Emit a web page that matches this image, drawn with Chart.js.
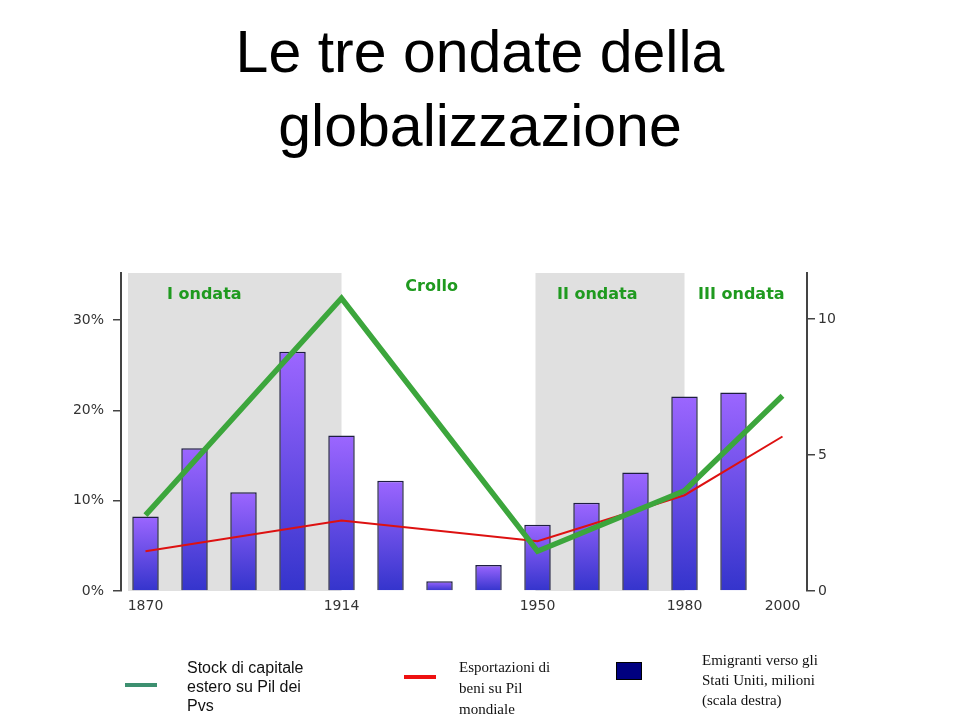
<!DOCTYPE html>
<html lang="it">
<head>
<meta charset="utf-8">
<title>Le tre ondate della globalizzazione</title>
<script src="https://cdn.jsdelivr.net/npm/chart.js@4.4.1/dist/chart.umd.min.js"></script>
<style>
  html, body { margin: 0; padding: 0; background: #fff; }
  #wrap { position: relative; width: 960px; height: 720px; overflow: hidden; }
  #chart { position: absolute; left: 0; top: 0; }
  .swatch { position: absolute; }
  .legend-text { position: absolute; color: #111; }
</style>
</head>
<body>
<div id="wrap">
  <canvas id="chart" width="960" height="720"></canvas>
  <div id="legend"></div>
</div>
<script>
// Values
const tickLabels = ['1870', '', '', '', '1914', '', '', '', '1950', '', '', '1980', '', '2000'];
const emigrants = [2.74, 5.25, 3.63, 8.8, 5.72, 4.06, 0.36, 0.96, 2.44, 3.25, 4.36, 7.16, 7.3]; // milioni, scala destra
const capitalStock = [8.4, null, null, null, 32.4, null, null, null, 4.4, null, null, 11.1, null, 21.6]; // % Pil Pvs
const exportsShare = [4.4, null, null, null, 7.8, null, null, null, 5.5, null, null, 10.6, null, 17.1]; // % Pil mondiale
const phaseNames = ['I ondata', 'Crollo', 'II ondata', 'III ondata'];
const shadedPeriods = [['1870', '1914'], ['1950', '1980']];

// Gradient fill for the emigrant bars (light purple on top, blue at the base)
function barFill(context) {
    const chart = context.chart;
    const area = chart.chartArea;
    if (!area || context.type !== 'data') return '#7a55ee';
    const top = chart.scales.y1.getPixelForValue(context.raw);
    const g = chart.ctx.createLinearGradient(0, top, 0, area.bottom);
    g.addColorStop(0, '#9c66ff');
    g.addColorStop(1, '#3434cc');
    return g;
}

// Grey background bands for the two globalisation waves
const bandsPlugin = {
    id: 'bands',
    beforeDraw(chart) {
        const { ctx, chartArea, scales: { x } } = chart;
        ctx.save();
        ctx.fillStyle = '#e0e0e0';
        shadedPeriods.forEach(([from, to]) => {
            const i0 = tickLabels.indexOf(from);
            const i1 = tickLabels.indexOf(to);
            const x0 = i0 === 0 ? chartArea.left + 7 : x.getPixelForValue(i0) - 2;
            const x1 = x.getPixelForValue(i1);
            ctx.fillRect(x0, chartArea.top, x1 - x0, chartArea.bottom - chartArea.top);
        });
        ctx.restore();
    }
};

// Phase names written over the plot
const phasePlugin = {
    id: 'phases',
    afterDraw(chart, args, opts) {
        const { ctx, scales: { x, y } } = chart;
        ctx.save();
        ctx.font = 'bold 16px "DejaVu Sans", Verdana, sans-serif';
        ctx.fillStyle = '#1f9a1f';
        ctx.textAlign = 'center';
        ctx.textBaseline = 'middle';
        opts.spots.forEach((s, i) => {
            ctx.fillText(phaseNames[i], x.getPixelForValue(s.at), y.getPixelForValue(s.level));
        });
        ctx.restore();
    }
};

const tickFont = { family: '"DejaVu Sans", sans-serif', size: 14 };

const chart = new Chart(document.getElementById('chart'), {
    type: 'bar',
    data: {
        labels: tickLabels,
        datasets: [{
            type: 'line',
            label: 'Stock di capitale estero su Pil dei Pvs',
            data: capitalStock,
            yAxisID: 'y',
            borderColor: '#3ca63c',
            borderWidth: 5.5,
            pointRadius: 0,
            spanGaps: true,
            order: 0
        }, {
            type: 'line',
            label: 'Esportazioni di beni su Pil mondiale',
            data: exportsShare,
            yAxisID: 'y',
            borderColor: '#dd1111',
            borderWidth: 2,
            pointRadius: 0,
            spanGaps: true,
            order: 1
        }, {
            type: 'bar',
            label: 'Emigranti verso gli Stati Uniti, milioni (scala destra)',
            data: emigrants,
            yAxisID: 'y1',
            backgroundColor: barFill,
            borderColor: '#1e1e40',
            borderWidth: 1.5,
            borderSkipped: 'bottom',
            barPercentage: 0.54,
            categoryPercentage: 1,
            order: 2
        }]
    },
    options: {
        responsive: false,
        animation: false,
        layout: { padding: 0 },
        plugins: {
            legend: { display: false },
            tooltip: { enabled: false },
            title: {
                display: true,
                text: ['Le tre ondate della', 'globalizzazione'],
                color: '#000',
                font: { family: '"Liberation Sans", Arial, sans-serif', size: 59, weight: 'normal', lineHeight: 1.254 },
                padding: { top: 18.6, bottom: 106.4 }
            },
            phases: {
                spots: [
                    { at: 1.2, level: 32.8 },
                    { at: 5.84, level: 33.7 },
                    { at: 9.22, level: 32.8 },
                    { at: 12.16, level: 32.8 }
                ]
            }
        },
        scales: {
            x: {
                grid: { display: false, drawTicks: false },
                border: { display: false },
                ticks: { autoSkip: false, maxRotation: 0, padding: 7, color: '#333', font: tickFont },
                afterFit(scale) { scale.height = 129; }
            },
            y: {
                position: 'left',
                min: 0,
                max: 35.2,
                grid: { drawOnChartArea: false, tickLength: 8, color: '#444', lineWidth: 1.5 },
                border: { color: '#444', width: 2 },
                ticks: { stepSize: 10, includeBounds: false, padding: 9, color: '#333', font: tickFont,
                    callback: v => v + '%' },
                afterFit(scale) { scale.width = 121; }
            },
            y1: {
                position: 'right',
                min: 0,
                max: 11.7,
                grid: { drawOnChartArea: false, tickLength: 8, color: '#444', lineWidth: 1.5 },
                border: { color: '#444', width: 2 },
                ticks: { stepSize: 5, includeBounds: false, padding: 3, color: '#333', font: tickFont },
                afterFit(scale) { scale.width = 153; }
            }
        }
    },
    plugins: [bandsPlugin, phasePlugin]
});

// Legend below the chart, built from the dataset labels
const legendLook = [
    { swatch: { left: 125, top: 683, width: 32, height: 4, background: '#3d9070' },
      text: { left: 187, top: 658, width: 125, font: '16px/19px "Liberation Sans", Arial, sans-serif' } },
    { swatch: { left: 404, top: 675, width: 32, height: 4, background: '#ee1111' },
      text: { left: 459, top: 657, width: 105, font: '15px/21px "Liberation Serif", "Times New Roman", serif' } },
    { swatch: { left: 616, top: 662, width: 24, height: 16, background: '#000080', border: '1px solid #000' },
      text: { left: 702, top: 650, width: 125, font: '15px/20px "Liberation Serif", "Times New Roman", serif' } }
];

const legendEl = document.getElementById('legend');
chart.data.datasets.forEach((ds, i) => {
    const look = legendLook[i];
    const sw = document.createElement('div');
    sw.className = 'swatch';
    Object.entries(look.swatch).forEach(([k, v]) => {
        sw.style[k] = typeof v === 'number' ? v + 'px' : v;
    });
    const tx = document.createElement('div');
    tx.className = 'legend-text';
    tx.textContent = ds.label;
    Object.entries(look.text).forEach(([k, v]) => {
        tx.style[k] = typeof v === 'number' ? v + 'px' : v;
    });
    legendEl.appendChild(sw);
    legendEl.appendChild(tx);
});
</script>
</body>
</html>
